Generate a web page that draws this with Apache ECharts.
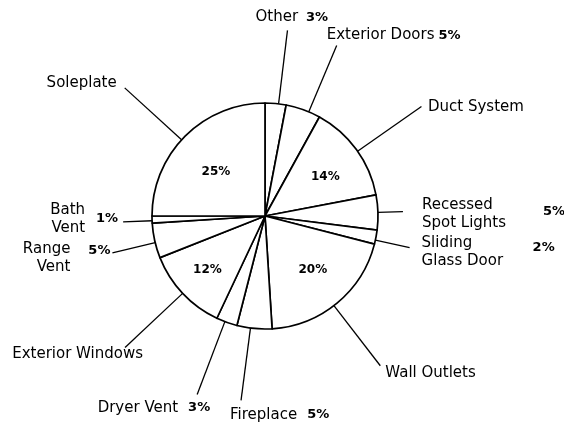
<!DOCTYPE html>
<html><head><meta charset="utf-8">
<script src="https://cdn.jsdelivr.net/npm/echarts@6/dist/echarts.min.js"></script>
<style>html,body{margin:0;padding:0;background:#fff}#c{width:564px;height:425px}</style>
</head><body><div id="c"></div>
<script>
// ---- data ----
const categories = ['Other','Exterior Doors','Duct System','Recessed\nSpot Lights','Sliding\nGlass Door','Wall Outlets','Fireplace','Dryer Vent','Exterior Windows','Range\nVent','Bath\nVent','Soleplate'];
const values = [3,5,14,5,2,20,5,3,12,5,1,25];
const pctPlacement = ['outer','outer','inner','outer','outer','inner','outer','outer','inner','outer','outer','inner'];

// ---- styling / layout ----
const CX = 265, CY = 216, R = 113;
const FONT = 'DejaVu Sans';
const INK = '#000';
const outerLabelStyle = [
  {da:1.5,  len:74, ox:-32, oy:-13,  align:'left',  kind:'inline', gap:8},
  {da:3,    len:72, ox:-10, oy:-10,  align:'left',  kind:'inline', gap:4},
  {da:1,    len:78, ox:6.5, oy:1,    align:'left',  kind:'name'},
  {da:0,    len:25, ox:19,  oy:2,    align:'left',  kind:'col', colW:121, padTop:14},
  {da:1.5,  len:35, ox:12,  oy:5,    align:'left',  kind:'col', colW:111, padTop:8},
  {da:2,    len:76, ox:5,   oy:7,    align:'left',  kind:'name'},
  {da:2,    len:73, ox:-11, oy:14.5, align:'left',  kind:'inline', gap:10},
  {da:1,    len:78, ox:13,  oy:13.5, align:'right', kind:'inline', gap:10},
  {da:0,    len:79, ox:18,  oy:7,    align:'right', kind:'name'},
  {da:-1,   len:44, ox:-2,  oy:5,    align:'right', kind:'col', colW:40, padTop:4},
  {da:-0.6, len:29, ox:-5,  oy:-2.5, align:'right', kind:'col', colW:33, padTop:16},
  {da:-2.6, len:77, ox:-8,  oy:-5,   align:'right', kind:'name'}
];
const innerLabelStyle = {2:{r:72,da:3}, 5:{r:72,da:-2}, 8:{r:79,da:0}, 11:{r:66,da:-3}};

const total = values.reduce((a,b)=>a+b,0);
const mids = []; let acc = 0;
values.forEach(v => { mids.push((acc + v/2) / total * 360); acc += v; });
function pt(deg, r){ const a = deg*Math.PI/180; return [CX + r*Math.sin(a), CY - r*Math.cos(a)]; }

const rich = {};
outerLabelStyle.forEach((s,i) => {
  const n = {fontFamily:FONT, fontSize:15, color:INK, lineHeight:18};
  const p = {fontFamily:FONT, fontSize:13, fontWeight:'bold', color:INK, lineHeight:18};
  if (s.kind === 'inline') { p.padding = [0,0,0,s.gap]; }
  if (s.kind === 'col') {
    p.padding = [s.padTop || 0, 0, 0, 0];
    if (s.align === 'left') { n.width = s.colW; n.align = 'left'; p.align = 'left'; }
    else { p.width = s.colW; p.align = 'right'; n.align = 'right'; }
  }
  rich['n'+i] = n; rich['p'+i] = p;
});

function outerFormatter(params){
  const i = params.dataIndex, s = outerLabelStyle[i];
  const lines = categories[i].split('\n'), pct = values[i] + '%';
  if (s.kind === 'inline') return `{n${i}|${lines[0]}}{p${i}|${pct}}`;
  if (s.kind === 'name') return `{n${i}|${lines.join(' ')}}`;
  if (s.align === 'left') return `{n${i}|${lines[0]}}{p${i}|${pct}}\n{n${i}|${lines[1]}}`;
  return `{n${i}|${lines[0]}}{p${i}|${pct}}\n{n${i}|${lines[1]}}{p${i}| }`;
}

const pieData = values.map((v,i) => ({name: categories[i], value: v}));

const chart = echarts.init(document.getElementById('c'), null, {renderer:'canvas'});
chart.setOption({
  backgroundColor: '#fff',
  animation: false,
  series: [
    {
      type: 'pie',
      center: [CX, CY],
      radius: R,
      startAngle: 90,
      clockwise: true,
      avoidLabelOverlap: false,
      silent: true,
      data: pieData,
      itemStyle: {color:'#fff', borderColor: INK, borderWidth: 1.7},
      emphasis: {disabled: true},
      label: {show: true, position: 'outside', formatter: outerFormatter, rich: rich, fontFamily: FONT, fontSize: 15, color: INK},
      labelLine: {show: true, length: 20, length2: 0, lineStyle: {color: INK, width: 1.3}},
      labelLayout: function(params){
        const i = params.dataIndex, s = outerLabelStyle[i];
        const ang = mids[i] + s.da;
        const a = pt(ang, R), b = pt(ang, R + s.len);
        return {x: b[0] + s.ox, y: b[1] + s.oy, align: s.align, verticalAlign: 'middle', labelLinePoints: [a, b, b]};
      }
    },
    {
      type: 'pie',
      center: [CX, CY],
      radius: R,
      startAngle: 90,
      clockwise: true,
      avoidLabelOverlap: false,
      silent: true,
      data: pieData,
      itemStyle: {color: 'rgba(0,0,0,0)', borderWidth: 0},
      emphasis: {disabled: true},
      label: {show: true, position: 'inside', fontFamily: FONT, fontSize: 12, fontWeight: 'bold', color: INK,
        formatter: p => pctPlacement[p.dataIndex] === 'inner' ? p.value + '%' : ''},
      labelLine: {show: false},
      labelLayout: function(params){
        const s = innerLabelStyle[params.dataIndex];
        if (!s) return {};
        const q = pt(mids[params.dataIndex] + s.da, s.r);
        return {x: q[0], y: q[1], align: 'center', verticalAlign: 'middle'};
      }
    }
  ]
});
</script>
</body></html>
